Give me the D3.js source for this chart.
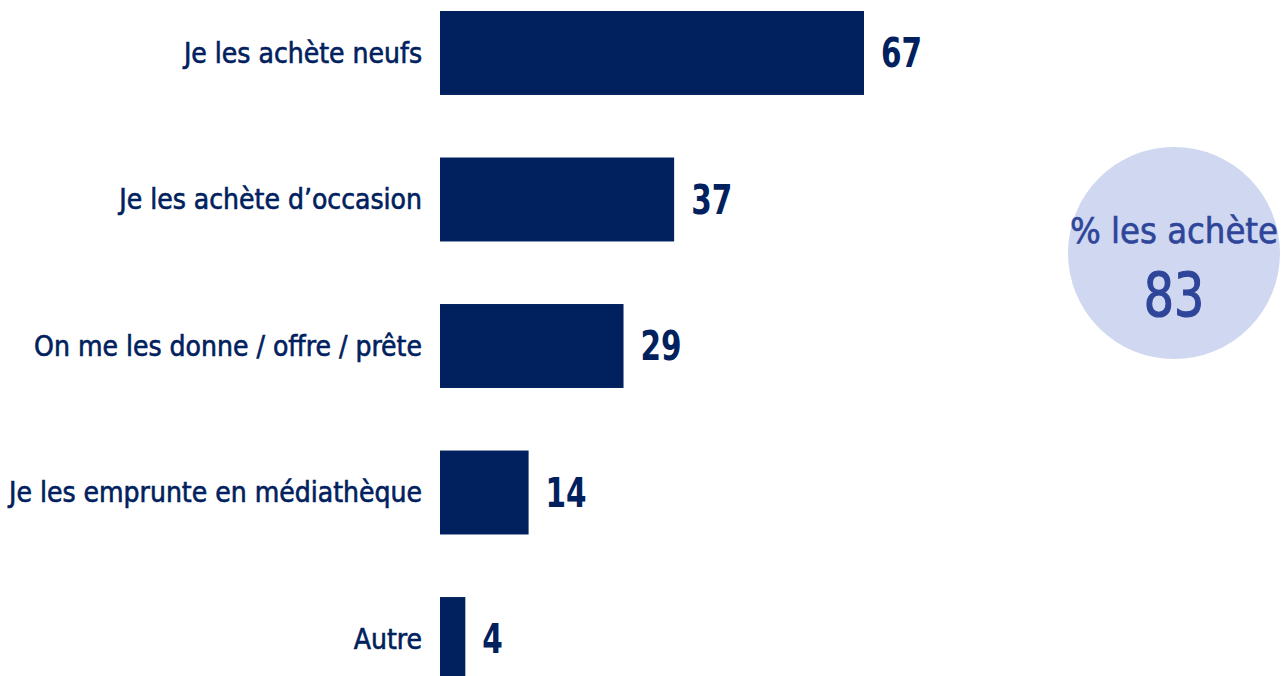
<!DOCTYPE html>
<html>
<head>
<meta charset="utf-8">
<script src="https://cdn.jsdelivr.net/npm/d3@7"></script>
<style>
  body { margin: 0; background: #fff; }
  text { font-family: 'DejaVu Sans Condensed', 'DejaVu Sans', sans-serif; }
</style>
</head>
<body>
<div id="chart"></div>
<script>
// answers, in display order
const categories = [
  'Je les achète neufs',
  'Je les achète d\u2019occasion',
  'On me les donne / offre / prête',
  'Je les emprunte en médiathèque',
  'Autre',
]
const values = [67, 37, 29, 14, 4]
const bubbleLabel = '% les achète'
const bubbleValue = 83

const width = 1283
const height = 676
const barColor = '#00215e'
const bubbleText = '#2e4599'

const svg = d3
  .select('#chart')
  .append('svg')
  .attr('width', width)
  .attr('height', height)

// x scale: 67 -> 424px
const x = d3.scaleLinear().domain([0, 67]).range([440, 864])

// y scale (last bar runs off the bottom edge)
const y = d3
  .scaleBand()
  .domain(categories)
  .range([11, 681])
  .paddingInner(0.427)
  .paddingOuter(0)

const mid = (c) => y(c) + y.bandwidth() / 2

// bars
svg
  .append('g')
  .selectAll('rect')
  .data(values)
  .enter()
  .append('rect')
  .attr('x', x(0))
  .attr('y', (d, i) => y(categories[i]))
  .attr('width', (d) => x(d) - x(0))
  .attr('height', y.bandwidth())
  .attr('fill', barColor)

// category labels (thin stroke to get a medium weight)
svg
  .append('g')
  .selectAll('text')
  .data(categories)
  .enter()
  .append('text')
  .attr('x', 422)
  .attr('y', (d) => mid(d))
  .attr('dy', '0.35em')
  .attr('text-anchor', 'end')
  .attr('fill', barColor)
  .attr('stroke', barColor)
  .attr('stroke-width', 0.6)
  .attr('font-size', '28px')
  .text((d) => d)

// value labels, squeezed a bit to look like a condensed face
svg
  .append('g')
  .selectAll('text')
  .data(values)
  .enter()
  .append('text')
  .attr('transform', (d, i) => `translate(${x(d) + 17},${mid(categories[i])}) scale(0.82,1)`)
  .attr('dy', '0.36em')
  .attr('fill', barColor)
  .attr('font-size', '40px')
  .attr('font-weight', 'bold')
  .text((d) => d)

// bubble on the right
const bubble = svg.append('g').attr('transform', 'translate(1174,253)')
bubble.append('circle').attr('r', 106).attr('fill', '#cfd8f0')
bubble
  .append('text')
  .attr('y', -10)
  .attr('text-anchor', 'middle')
  .attr('fill', bubbleText)
  .attr('stroke', bubbleText)
  .attr('stroke-width', 0.6)
  .attr('font-size', '36px')
  .text(bubbleLabel)
bubble
  .append('text')
  .attr('transform', 'translate(0,63) scale(0.88,1)')
  .attr('text-anchor', 'middle')
  .attr('fill', bubbleText)
  .attr('stroke', bubbleText)
  .attr('stroke-width', 1.2)
  .attr('font-size', '60px')
  .text(bubbleValue)
</script>
</body>
</html>
